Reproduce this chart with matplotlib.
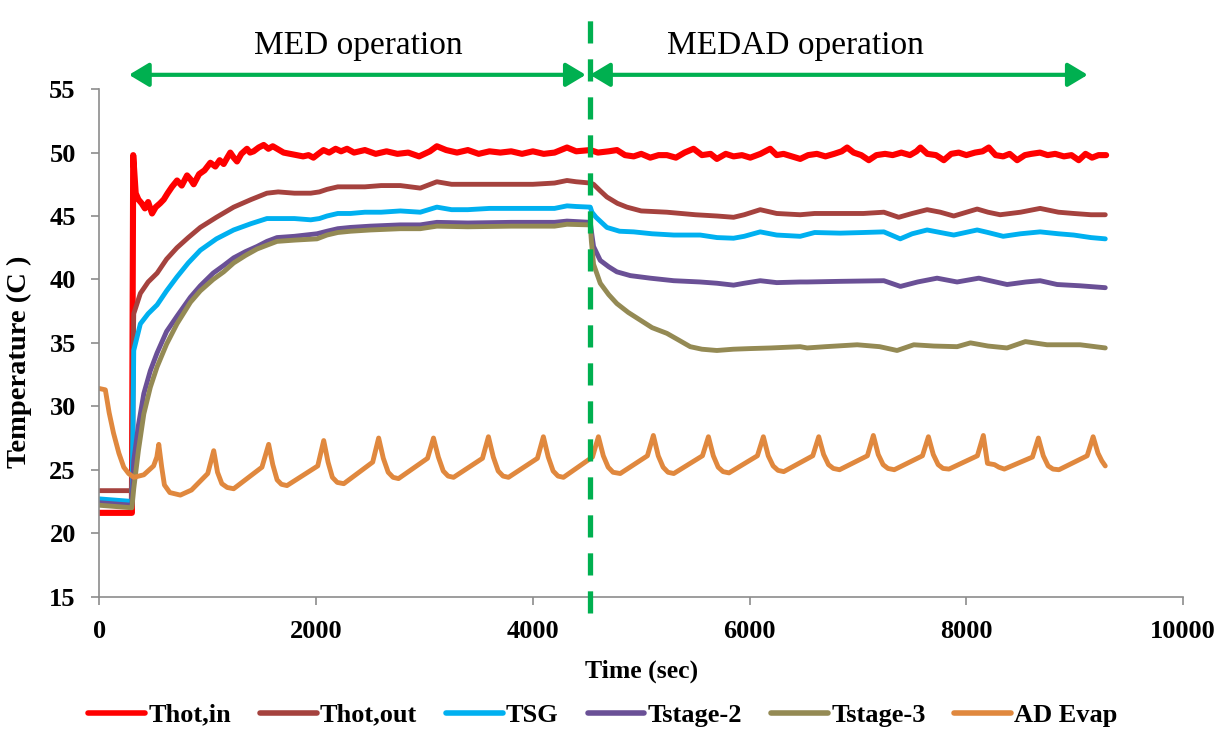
import matplotlib
matplotlib.use('Agg')
import matplotlib.pyplot as plt
from matplotlib.lines import Line2D

plt.rcParams['font.family'] = ['Liberation Serif', 'DejaVu Serif']

# ---- data (time in sec, temperature in C) ----
t_hot_in = [0, 300, 312, 335, 360, 390, 420, 450, 486, 520, 560, 594, 630, 670, 717, 760,
            809, 840, 870, 920, 970, 1024, 1070, 1110, 1147, 1180, 1208, 1240, 1270, 1310,
            1362, 1390, 1423, 1470, 1516, 1560, 1600, 1640, 1700, 1760, 1820, 1880, 1930,
            1975, 2020, 2068, 2120, 2180, 2230, 2285, 2350, 2450, 2550, 2650, 2750, 2850,
            2950, 3050, 3114, 3200, 3300, 3400, 3500, 3600, 3700, 3800, 3900, 4000, 4100,
            4200, 4315, 4400, 4530, 4600, 4700, 4776, 4850, 4930, 5000, 5083, 5160, 5237,
            5320, 5400, 5483, 5560, 5640, 5698, 5780, 5852, 5930, 6006, 6100, 6190, 6250,
            6313, 6390, 6467, 6540, 6621, 6700, 6780, 6850, 6900, 6960, 7030, 7100, 7170,
            7250, 7320, 7400, 7480, 7540, 7576, 7640, 7720, 7792, 7860, 7930, 8000, 8080,
            8150, 8207, 8270, 8340, 8400, 8469, 8540, 8600, 8680, 8750, 8820, 8900, 8970,
            9037, 9100, 9160, 9220, 9290]
hot_in = [21.6, 21.6, 49.8, 46.8, 46.3, 46.0, 45.6, 46.1, 45.2, 45.7, 46.0, 46.3, 46.8, 47.3,
          47.8, 47.4, 48.2, 47.9, 47.5, 48.3, 48.6, 49.2, 48.9, 49.4, 49.1, 49.6, 50.0, 49.6,
          49.3, 49.9, 50.3, 50.0, 50.1, 50.4, 50.6, 50.3, 50.5, 50.3, 50.0, 49.9, 49.8, 49.7,
          49.8, 49.6, 49.9, 50.2, 50.0, 50.3, 50.1, 50.3, 50.0, 50.2, 49.9, 50.1, 49.9, 50.0,
          49.7, 50.1, 50.5, 50.2, 50.0, 50.2, 49.9, 50.1, 50.0, 50.1, 49.9, 50.1, 49.9, 50.0,
          50.4, 50.1, 50.2, 50.0, 50.1, 50.2, 49.8, 49.7, 49.9, 49.6, 49.8, 49.8, 49.6, 50.0,
          50.3, 49.8, 49.9, 49.5, 49.9, 49.7, 49.8, 49.6, 49.9, 50.3, 49.8, 49.9, 49.7, 49.5,
          49.8, 49.9, 49.7, 49.9, 50.1, 50.4, 50.0, 49.8, 49.4, 49.8, 49.9, 49.8, 50.0, 49.8,
          50.1, 50.4, 49.9, 49.8, 49.4, 49.9, 50.0, 49.8, 50.0, 50.1, 50.4, 49.8, 49.7, 49.9,
          49.4, 49.8, 49.9, 50.0, 49.8, 49.9, 49.7, 49.8, 49.4, 49.9, 49.6, 49.8, 49.8]

t_hot_out = [0, 300, 305, 317, 378, 450, 533, 620, 716, 820, 931, 1080, 1239, 1400, 1546, 1650,
             1800, 1950, 2030, 2100, 2200, 2317, 2450, 2600, 2777, 2961, 3114, 3250, 3400, 3600,
             3800, 4000, 4200, 4315, 4400, 4530, 4560, 4620, 4683, 4780, 4868, 5000, 5237, 5500,
             5700, 5852, 5950, 6098, 6250, 6467, 6600, 6836, 7050, 7239, 7376, 7500, 7638, 7760,
             7884, 8100, 8200, 8312, 8500, 8681, 8850, 8991, 9150, 9282]
hot_out = [23.35, 23.35, 30.0, 37.3, 38.9, 39.8, 40.5, 41.6, 42.5, 43.3, 44.1, 44.9, 45.7, 46.3,
           46.8, 46.9, 46.8, 46.8, 46.9, 47.1, 47.3, 47.3, 47.3, 47.4, 47.4, 47.2, 47.7, 47.5,
           47.5, 47.5, 47.5, 47.5, 47.6, 47.8, 47.7, 47.6, 47.5, 47.0, 46.5, 46.0, 45.7, 45.4,
           45.3, 45.1, 45.0, 44.9, 45.1, 45.5, 45.2, 45.1, 45.2, 45.2, 45.2, 45.3, 44.9, 45.2,
           45.5, 45.3, 45.0, 45.55, 45.3, 45.1, 45.3, 45.6, 45.3, 45.2, 45.1, 45.1]

t_tsg = [0, 300, 310, 317, 378, 450, 533, 620, 716, 820, 931, 1080, 1239, 1400, 1546, 1650, 1800,
         1950, 2030, 2100, 2200, 2317, 2450, 2600, 2777, 2961, 3114, 3250, 3400, 3600, 3800, 4000,
         4200, 4315, 4400, 4530, 4545, 4583, 4683, 4800, 4930, 5100, 5300, 5544, 5700, 5852, 5950,
         6098, 6250, 6467, 6600, 6836, 7050, 7239, 7390, 7500, 7638, 7760, 7884, 8100, 8200, 8340,
         8500, 8681, 8850, 8991, 9150, 9282]
tsg = [22.7, 22.5, 28.0, 34.4, 36.5, 37.3, 38.0, 39.1, 40.2, 41.3, 42.3, 43.2, 43.9, 44.4, 44.8,
       44.8, 44.8, 44.7, 44.8, 45.0, 45.2, 45.2, 45.3, 45.3, 45.4, 45.3, 45.7, 45.5, 45.5, 45.6,
       45.6, 45.6, 45.6, 45.8, 45.75, 45.7, 45.3, 44.9, 44.1, 43.8, 43.75, 43.6, 43.5, 43.5, 43.3,
       43.25, 43.4, 43.75, 43.5, 43.4, 43.7, 43.65, 43.7, 43.75, 43.2, 43.6, 43.9, 43.7, 43.5,
       43.9, 43.7, 43.4, 43.6, 43.75, 43.6, 43.5, 43.3, 43.2]

t_stage2 = [0, 300, 317, 360, 410, 470, 532, 620, 716, 840, 931, 1050, 1147, 1239, 1350, 1455,
            1546, 1639, 1800, 2008, 2100, 2200, 2317, 2500, 2777, 2961, 3114, 3400, 3800, 4200,
            4315, 4530, 4545, 4560, 4622, 4700, 4775, 4900, 5083, 5300, 5544, 5700, 5852, 5950,
            6098, 6250, 6467, 6531, 6836, 7239, 7392, 7550, 7730, 7915, 8115, 8376, 8550, 8681,
            8838, 9050, 9282]
stage2 = [22.4, 22.2, 25.7, 28.5, 31.0, 32.8, 34.2, 35.9, 37.1, 38.6, 39.5, 40.5, 41.1, 41.7,
          42.2, 42.6, 43.0, 43.3, 43.4, 43.6, 43.8, 44.0, 44.1, 44.2, 44.3, 44.3, 44.5, 44.45,
          44.5, 44.5, 44.6, 44.5, 43.5, 42.6, 41.5, 41.0, 40.6, 40.3, 40.1, 39.9, 39.8, 39.7,
          39.55, 39.7, 39.9, 39.75, 39.8, 39.8, 39.85, 39.9, 39.45, 39.8, 40.1, 39.8, 40.1, 39.6,
          39.8, 39.9, 39.6, 39.5, 39.35]

t_stage3 = [0, 300, 317, 360, 410, 470, 532, 620, 716, 840, 931, 1050, 1147, 1239, 1350, 1455,
            1546, 1639, 1800, 2008, 2100, 2200, 2317, 2500, 2777, 2961, 3114, 3400, 3800, 4200,
            4315, 4530, 4540, 4560, 4622, 4700, 4775, 4880, 4990, 5100, 5237, 5350, 5452, 5560,
            5698, 5850, 6006, 6200, 6467, 6531, 6700, 6993, 7200, 7361, 7515, 7700, 7915, 8038,
            8200, 8376, 8545, 8745, 9050, 9282]
stage3 = [22.2, 22.0, 23.5, 26.5, 29.4, 31.5, 33.1, 34.9, 36.5, 38.2, 39.1, 40.0, 40.6, 41.3,
          41.9, 42.4, 42.7, 43.0, 43.1, 43.2, 43.5, 43.7, 43.8, 43.9, 44.0, 44.0, 44.2, 44.15,
          44.2, 44.2, 44.35, 44.3, 43.0, 41.2, 39.7, 38.8, 38.1, 37.4, 36.8, 36.2, 35.75, 35.2,
          34.7, 34.5, 34.4, 34.5, 34.55, 34.6, 34.7, 34.6, 34.7, 34.85, 34.7, 34.4, 34.85, 34.75,
          34.7, 35.0, 34.75, 34.6, 35.1, 34.85, 34.85, 34.6]

t_ad_evap = [0, 55, 90, 130, 180, 225, 270, 317, 410, 500,
             530, 548, 575, 600, 650, 747, 850, 1000,
             1055, 1090, 1130, 1180, 1239, 1500,
             1562, 1600, 1640, 1680, 1731, 2015,
             2070, 2110, 2150, 2195, 2255, 2522,
             2577, 2620, 2665, 2710, 2760, 3028,
             3083, 3128, 3173, 3218, 3268, 3535,
             3590, 3635, 3680, 3725, 3775, 4042,
             4097, 4142, 4187, 4232, 4282, 4550,
             4605, 4650, 4695, 4740, 4806, 5057,
             5112, 5157, 5202, 5247, 5300, 5565,
             5620, 5665, 5710, 5755, 5810, 6072,
             6127, 6172, 6217, 6262, 6315, 6583,
             6638, 6683, 6728, 6773, 6830, 7087,
             7142, 7187, 7232, 7277, 7335, 7595,
             7650, 7695, 7740, 7785, 7840, 8102,
             8157, 8195, 8260, 8300, 8350, 8610,
             8665, 8710, 8755, 8800, 8855, 9115,
             9170, 9215, 9250, 9282]
ad_evap = [31.4, 31.3, 29.5, 27.9, 26.3, 25.2, 24.7, 24.4, 24.6, 25.3,
           26.0, 27.0, 25.2, 23.8, 23.2, 23.0, 23.4, 24.7,
           26.5, 24.8, 23.9, 23.6, 23.5, 25.2,
           27.0, 25.4, 24.2, 23.85, 23.75, 25.3,
           27.3, 25.6, 24.4, 24.0, 23.9, 25.6,
           27.5, 25.9, 24.8, 24.4, 24.3, 25.9,
           27.5, 26.0, 24.9, 24.5, 24.4, 25.9,
           27.6, 26.0, 24.9, 24.5, 24.4, 25.9,
           27.6, 26.0, 24.9, 24.5, 24.4, 26.0,
           27.6, 26.1, 25.2, 24.8, 24.7, 26.1,
           27.7, 26.1, 25.2, 24.8, 24.7, 26.1,
           27.6, 26.1, 25.2, 24.85, 24.75, 26.1,
           27.6, 26.1, 25.3, 24.95, 24.85, 26.1,
           27.6, 26.2, 25.4, 25.1, 25.0, 26.1,
           27.7, 26.2, 25.4, 25.1, 25.0, 26.1,
           27.6, 26.2, 25.4, 25.1, 25.05, 26.1,
           27.7, 25.5, 25.4, 25.2, 25.05, 26.0,
           27.5, 26.1, 25.3, 25.05, 25.0, 26.1,
           27.6, 26.3, 25.7, 25.3]

switch_time = 4530  # MED -> MEDAD

series = [
    ('Thot,in', t_hot_in, hot_in, '#FF0000', 4.4),
    ('Thot,out', t_hot_out, hot_out, '#A5423E', 3.5),
    ('TSG', t_tsg, tsg, '#00B0F0', 3.5),
    ('Tstage-2', t_stage2, stage2, '#6A5096', 3.5),
    ('Tstage-3', t_stage3, stage3, '#948A54', 3.5),
    ('AD Evap', t_ad_evap, ad_evap, '#E0883E', 3.5),
]

fig = plt.figure(figsize=(12.27, 7.32), dpi=100)
ax = fig.add_axes([0.081, 0.185, 0.8832, 0.6932])

for name, t, y, c, lw in series:
    ax.plot(t, y, color=c, lw=lw, label=name, solid_joinstyle='round', solid_capstyle='round')

ax.set_xlim(0, 10000)
ax.set_ylim(15, 55)
ax.set_xticks(range(0, 10001, 2000))
ax.set_yticks(range(15, 56, 5))

grey = '#8C8C8C'
for s in ['top', 'right']:
    ax.spines[s].set_visible(False)
for s in ['left', 'bottom']:
    ax.spines[s].set_color(grey)
    ax.spines[s].set_linewidth(1.2)
ax.tick_params(direction='out', length=6, width=1.2, color=grey, pad=11,
               labelsize=19)
for lab in ax.get_xticklabels() + ax.get_yticklabels():
    lab.set_fontweight('bold')

ax.set_xlabel('Time (sec)', fontsize=18.5, fontweight='bold', labelpad=12)
ax.set_ylabel('Temperature (C )', fontsize=20.5, fontweight='bold')
ax.yaxis.set_label_coords(-0.062, 0.463)

# switch-over marker
green = '#00B050'
vline = Line2D([switch_time, switch_time], [13.7, 61.25], color=green, lw=3.8,
               clip_on=False, zorder=5)
vline.set_dashes((4.2, 3.0))
ax.add_line(vline)

arrow_y = 56.13
arrow_style = '<|-|>,head_length=1.0,head_width=0.6'
ax.annotate('', xy=(273, arrow_y), xytext=(4488, arrow_y), annotation_clip=False,
            arrowprops=dict(arrowstyle=arrow_style, color=green, lw=3,
                            mutation_scale=12, shrinkA=0, shrinkB=0))
ax.annotate('', xy=(4528, arrow_y), xytext=(9120, arrow_y), annotation_clip=False,
            arrowprops=dict(arrowstyle=arrow_style, color=green, lw=3,
                            mutation_scale=12, shrinkA=0, shrinkB=0))
ax.text(2386, 57.79, 'MED operation', ha='center', va='baseline', fontsize=24, clip_on=False)
ax.text(6419, 57.79, 'MEDAD operation', ha='center', va='baseline', fontsize=24, clip_on=False)

leg = fig.legend(loc='center', bbox_to_anchor=(603 / 1227, 1 - 715 / 732), ncol=6,
                 frameon=False, prop={'weight': 'bold', 'size': 19},
                 handlelength=2.15, handletextpad=0.12, columnspacing=1.1)
for h in leg.get_lines():
    h.set_linewidth(4)

fig.savefig('out.png', dpi=100)
